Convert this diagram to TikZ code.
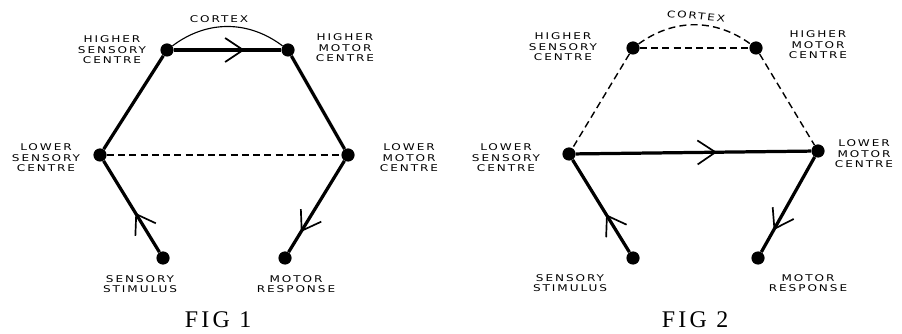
\documentclass[tikz,border=0pt]{standalone}
\usepackage{fontspec}
\usetikzlibrary{arrows.meta,decorations.markings}
\newfontfamily\handfont[LetterSpace=16]{DejaVu Sans}
\newfontfamily\figfont[LetterSpace=14]{Liberation Serif}
\tikzset{
    every node/.style={font=\handfont\fontsize{6.6}{7.4}\selectfont},
    centre/.style={circle,fill=black,minimum size=3.3mm,inner sep=0pt},
    lbl/.style={align=center,inner sep=0pt,xscale=1.3},
    figlbl/.style={font=\figfont\fontsize{17}{17}\selectfont,inner sep=0pt},
    nerve/.style={line width=2.3pt},
    link/.style={line width=1pt,dash pattern=on 5pt off 3pt},
    cortex/.style={line width=0.8pt},
    midarrow/.style={postaction={decorate},decoration={markings,
        mark=at position #1 with {\arrow{Straight Barb[length=4.5mm,width=6mm,line width=1.2pt]}}}}
}
\begin{document}
\begin{tikzpicture}[x=0.025cm,y=-0.025cm]
    \useasboundingbox (0,0) rectangle (902,334);
    % fig 1
    \node[centre] (hs1) at (167,50) {};
    \node[centre] (hm1) at (288,50) {};
    \node[centre] (ls1) at (100,155) {};
    \node[centre] (lm1) at (348,155) {};
    \node[centre] (ss1) at (163,258) {};
    \node[centre] (mr1) at (285,258) {};
    \node[lbl] (hs1t) at (112,50) {HIGHER\\SENSORY\\CENTRE};
    \node[lbl] (hm1t) at (345,48) {HIGHER\\MOTOR\\CENTRE};
    \node[lbl] (ls1t) at (46,158) {LOWER\\SENSORY\\CENTRE};
    \node[lbl] (lm1t) at (409,158) {LOWER\\MOTOR\\CENTRE};
    \node[lbl] (ss1t) at (140,284) {SENSORY\\STIMULUS};
    \node[lbl] (mr1t) at (296,284) {MOTOR\\RESPONSE};
    \node[lbl] (cx1) at (219,19) {CORTEX};
    \node[figlbl] (fig1) at (218,320) {FIG 1};
    \draw[cortex] (hs1) to[bend left=37] (hm1);
    \draw[nerve,midarrow=0.66] (hs1)--(hm1);
    \draw[nerve] (hs1)--(ls1);
    \draw[nerve] (hm1)--(lm1);
    \draw[link] (ls1)--(lm1);
    \draw[nerve,midarrow=0.43] (ss1)--(ls1);
    \draw[nerve,midarrow=0.78] (lm1)--(mr1);
    % fig 2
    \node[centre] (hs2) at (633,48) {};
    \node[centre] (hm2) at (756,48) {};
    \node[centre] (ls2) at (569,154) {};
    \node[centre] (lm2) at (818,151) {};
    \node[centre] (ss2) at (633,258) {};
    \node[centre] (mr2) at (758,258) {};
    \node[lbl] (hs2t) at (563,47) {HIGHER\\SENSORY\\CENTRE};
    \node[lbl] (hm2t) at (818,45) {HIGHER\\MOTOR\\CENTRE};
    \node[lbl] (ls2t) at (506,158) {LOWER\\SENSORY\\CENTRE};
    \node[lbl] (lm2t) at (864,154) {LOWER\\MOTOR\\CENTRE};
    \node[lbl] (ss2t) at (570,283) {SENSORY\\STIMULUS};
    \node[lbl] (mr2t) at (808,283) {MOTOR\\RESPONSE};
    \node[lbl,rotate=-6] (cx2) at (696,16) {CORTEX};
    \node[figlbl] (fig2) at (695,320) {FIG 2};
    \draw[link] (hs2) to[bend left=36] (hm2);
    \draw[link] (hs2)--(hm2);
    \draw[link] (hs2)--(ls2);
    \draw[link] (hm2)--(lm2);
    \draw[nerve,midarrow=0.6] (ls2)--(lm2);
    \draw[nerve,midarrow=0.41] (ss2)--(ls2);
    \draw[nerve,midarrow=0.77] (lm2)--(mr2);
\end{tikzpicture}
\end{document}
